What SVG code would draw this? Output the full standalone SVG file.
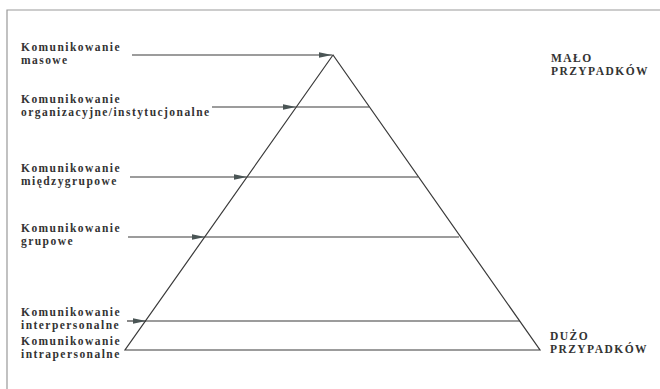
<svg xmlns="http://www.w3.org/2000/svg" width="660" height="389" viewBox="0 0 660 389">
<style>
.t{font-family:"Liberation Serif","Times New Roman",serif;font-weight:bold;font-size:11.5px;letter-spacing:1.45px;fill:#333}
.l{stroke:#3a3a3a;stroke-width:1.2;fill:none}
.a{stroke:#3a3a3a;stroke-width:1.2;fill:none;marker-end:url(#ah)}
</style>
<defs>
<marker id="ah" viewBox="0 0 13 6" refX="13" refY="3" markerWidth="13" markerHeight="6" markerUnits="userSpaceOnUse" orient="auto">
<path d="M0,0.3 L13,3 L0,5.7 Z" fill="#4a5555"/>
</marker>
</defs>
<rect width="660" height="389" fill="#fff"/>
<g id="frame">
<path d="M7,389 V10 H660" stroke="#999" stroke-width="1.2" fill="none"/>
</g>
<g id="pyramid">
<path class="l" d="M333,55 L125,350 L540,350 Z"/>
<line class="l" x1="296" y1="107" x2="369" y2="107"/>
<line class="l" x1="247" y1="177" x2="418" y2="177"/>
<line class="l" x1="205" y1="237" x2="459" y2="237"/>
<line class="l" x1="145" y1="321" x2="520" y2="321"/>
</g>
<g id="connectors">
<line class="a" x1="132" y1="55" x2="332" y2="55"/>
<line class="a" x1="212" y1="107" x2="296" y2="107"/>
<line class="a" x1="130" y1="177" x2="247" y2="177"/>
<line class="a" x1="128" y1="237" x2="205" y2="237"/>
<line class="a" x1="127" y1="321" x2="146" y2="321"/>
</g>
<g id="masowe"><text class="t" x="21" y="50.5">Komunikowanie<tspan x="21" dy="13">masowe</tspan></text></g>
<g id="organizacyjne"><text class="t" x="21" y="102.5">Komunikowanie<tspan x="21" dy="13">organizacyjne/instytucjonalne</tspan></text></g>
<g id="miedzygrupowe"><text class="t" x="21" y="171.5">Komunikowanie<tspan x="21" dy="13">międzygrupowe</tspan></text></g>
<g id="grupowe"><text class="t" x="21" y="231.5">Komunikowanie<tspan x="21" dy="13">grupowe</tspan></text></g>
<g id="interpersonalne"><text class="t" x="21" y="316">Komunikowanie<tspan x="21" dy="13">interpersonalne</tspan></text></g>
<g id="intrapersonalne"><text class="t" x="21" y="344.5">Komunikowanie<tspan x="21" dy="13">intrapersonalne</tspan></text></g>
<g id="malo"><text class="t" x="551" y="62">MAŁO<tspan x="551" dy="13">PRZYPADKÓW</tspan></text></g>
<g id="duzo"><text class="t" x="550" y="340">DUŻO<tspan x="550" dy="13">PRZYPADKÓW</tspan></text></g>
</svg>
